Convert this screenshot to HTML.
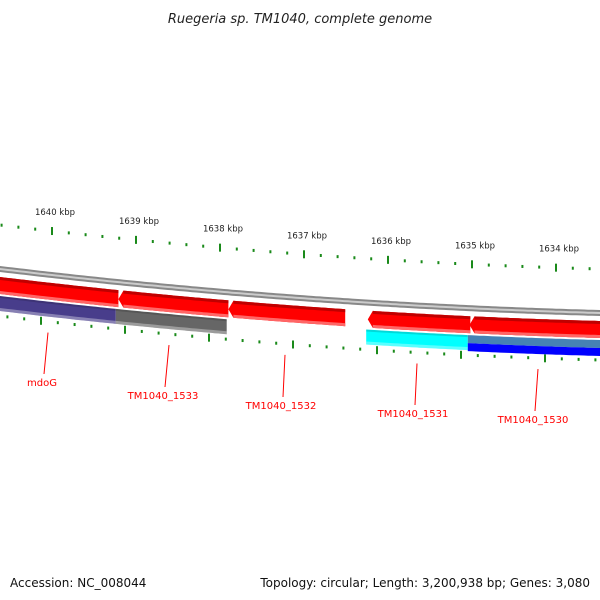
<!DOCTYPE html>
<html><head><meta charset="utf-8"><style>
html,body{margin:0;padding:0;background:#fff;}
svg{display:block;font-family:"DejaVu Sans","Liberation Sans",sans-serif;}
</style></head><body>
<svg id="map" width="600" height="600" viewBox="0 0 600 600">
<text x="300" y="23" text-anchor="middle" font-size="13" font-style="italic" fill="#222">Ruegeria sp. TM1040, complete genome</text>
<text x="10" y="587" font-size="12" fill="#111">Accession: NC_008044</text>
<text x="590" y="587" font-size="12" fill="#111" text-anchor="end">Topology: circular; Length: 3,200,938 bp; Genes: 3,080</text>
<g id="layer"></g>
</svg>
<script>
// data
const tickKbp = [1640, 1639, 1638, 1637, 1636, 1635, 1634];
const geneNames = ["mdoG", "TM1040_1533", "TM1040_1532", "TM1040_1531", "TM1040_1530"];
const geneLeftKbp = [1641.0, 1639.21, 1637.90, 1636.24, 1635.03];
const geneRightKbp = [1639.21, 1637.90, 1636.51, 1635.02, 1633.0];
const featLeftKbp = [1641.0, 1639.24, 1636.26, 1635.05];
const featRightKbp = [1639.24, 1637.92, 1635.05, 1633.0];
const featColors = ["#483d8b", "#666666", "#00ffff", "split"];

const NS = "http://www.w3.org/2000/svg";
const layer = document.getElementById("layer");
function xOf(kbp){ return 52 + (1640 - kbp) * 84; }
function yOf(x){ return 269 + 0.12 * x - 0.0000778 * x * x; }
function mk(tag, attrs){ const e = document.createElementNS(NS, tag); for (const k in attrs) e.setAttribute(k, attrs[k]); layer.appendChild(e); return e; }
function band(x1, x2, off1, off2, arrow){
  x1 = Math.max(x1, -20); x2 = Math.min(x2, 620);
  let pts = [];
  for (let x = x1; x <= x2; x += 4) pts.push([x, yOf(x) + off1]);
  pts.push([x2, yOf(x2) + off1]);
  let bot = [];
  for (let x = x2; x >= x1; x -= 4) bot.push([x, yOf(x) + off2]);
  bot.push([x1, yOf(x1) + off2]);
  pts = pts.concat(bot);
  if (arrow) pts.push([x1 - 5, yOf(x1) + (off1 + off2) / 2]);
  return pts.map(p => p[0].toFixed(1) + "," + p[1].toFixed(1)).join(" ");
}
// backbone
let p = mk("polygon", {points: band(-20, 620, -3, 3, false), fill: "#888"});


mk("polygon", {points: band(-20, 620, -1, 1, false), fill: "#ccc"});
// ticks every 200 bp
for (let i = 0; i <= 45; i++) {
  const kr = Math.round((1641 - i * 0.2) * 10) / 10;
  const x = xOf(kr);
  const major = Math.abs(kr - Math.round(kr)) < 0.01;
  const len = major ? 8 : 3;
  if (x > -5 && x < 605) {
    const t1 = mk("rect", {x: x - 1, y: yOf(x) - 44 - len / 2, width: 2, height: len, fill: "#1a8a1a"});
    
    
  }
  const xi = x - 11;
  if (xi > -5 && xi < 605) {
    const t2 = mk("rect", {x: xi - 1, y: yOf(xi) + 47 - len / 2, width: 2, height: len, fill: "#1a8a1a"});
    
    
  }
}
tickKbp.forEach(k => {
  const x = xOf(k);
  const t = mk("text", {x: x + 3, y: yOf(x) - 60, "font-size": 8.5, "text-anchor": "middle", fill: "#222"});
  t.textContent = k + " kbp";
  
  
});
// genes (red, leftward arrows)
geneNames.forEach((n, i) => {
  const x1 = xOf(geneLeftKbp[i]) + 5, x2 = xOf(geneRightKbp[i]);
  const g = mk("polygon", {points: band(x1, x2, 8, 25, true), fill: "#ff0000"});
  
  
  mk("polygon", {points: band(x1, x2, 8, 11, false), fill: "#c00000"});
  mk("polygon", {points: band(x1, x2, 22, 25, false), fill: "#ff6666"});
});
// features
featColors.forEach((c, i) => {
  const a = xOf(featLeftKbp[i]), b = xOf(featRightKbp[i]);
  if (c === "split") {
    const f = mk("polygon", {points: band(a, b, 27, 35, false), fill: "#4682b4"});
    
    
    mk("polygon", {points: band(a, b, 35, 43, false), fill: "#0000ff"});
  } else {
    const f = mk("polygon", {points: band(a, b, 27, 42, false), fill: c});
    
    
    mk("polygon", {points: band(a, b, 27, 29, false), fill: "rgba(0,0,0,0.15)"});
    mk("polygon", {points: band(a, b, 39, 42, false), fill: "rgba(255,255,255,0.35)"});
  }
});
// labels
const labelX = [42, 163, 281, 413, 533];
const labelY = [383, 396, 406, 414, 420];
const lineTopX = [48, 169, 285, 417, 538];
geneNames.forEach((n, i) => {
  const x0 = lineTopX[i];
  const l = mk("line", {x1: x0, y1: yOf(x0) + 58, x2: labelX[i] + 2, y2: labelY[i] - 9, stroke: "#ff0000", "stroke-width": 1});
  
  
  const t = mk("text", {x: labelX[i], y: labelY[i] + 3, "font-size": 10, "text-anchor": "middle", fill: "#ff0000"});
  t.textContent = n;
  
  
});
</script>
</body></html>
